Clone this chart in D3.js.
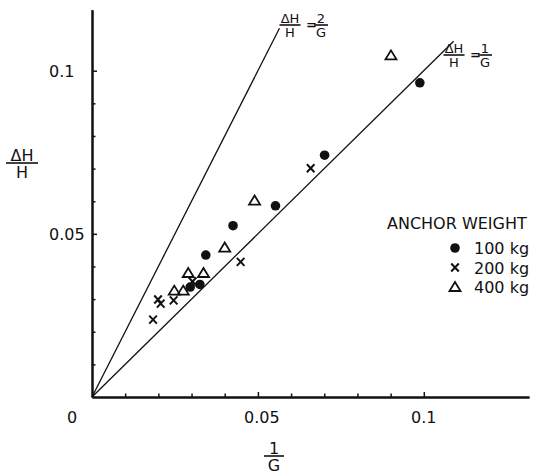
<!DOCTYPE html>
<html><head><meta charset="utf-8">
<script src="https://cdn.jsdelivr.net/npm/d3@7"></script>
<style>
html,body{margin:0;padding:0;background:#fff;}
svg{display:block;font-family:"DejaVu Sans",sans-serif;}
</style></head>
<body>
<svg id="c" width="543" height="474"></svg>
<script>
// ---- data ----
const w100x = [0.0988, 0.0701, 0.0553, 0.0425, 0.0343, 0.0325, 0.0296];
const w100y = [0.0963, 0.0741, 0.0586, 0.0525, 0.0435, 0.0345, 0.0337];
const w200x = [0.0659, 0.0448, 0.0303, 0.0246, 0.0199, 0.0207, 0.0184];
const w200y = [0.0701, 0.0414, 0.0354, 0.0296, 0.0299, 0.0286, 0.0237];
const w400x = [0.0901, 0.0490, 0.0400, 0.0290, 0.0336, 0.0248, 0.0275];
const w400y = [0.1047, 0.0602, 0.0458, 0.0380, 0.0380, 0.0326, 0.0326];
const seriesNames = ["100 kg", "200 kg", "400 kg"];
const lineSlopes = [1, 2];
const lineXEnds = [0.109, 0.0565];
const majorTicks = [0.05, 0.1];
const majorLabels = ["0.05", "0.1"];
const minorTicks = [0.01, 0.02, 0.03, 0.04, 0.06, 0.07, 0.08, 0.09];
const xMax = 0.1317, yMax = 0.1187;

const svg = d3.select("#c");
const ox = 92, oy = 397;
const x = d3.scaleLinear().domain([0, xMax]).range([ox, 529]);
const y = d3.scaleLinear().domain([0, yMax]).range([oy, oy - yMax * 3263]);
const ink = "#111";

// axes
const gx = svg.append("g").attr("transform", `translate(0,${oy})`);
gx.call(d3.axisBottom(x).tickValues(minorTicks).tickSize(-3.5).tickSizeOuter(0).tickFormat(""));
gx.append("g").call(d3.axisBottom(x).tickValues(majorTicks).tickSize(-5).tickSizeOuter(0).tickFormat(""));
const gy = svg.append("g").attr("transform", `translate(${ox},0)`);
gy.call(d3.axisLeft(y).tickValues(minorTicks).tickSize(-3.5).tickSizeOuter(0).tickFormat(""));
gy.append("g").call(d3.axisLeft(y).tickValues(majorTicks).tickSize(-5).tickSizeOuter(0).tickFormat(""));
svg.selectAll(".domain").attr("stroke", ink).attr("stroke-width", 2);
svg.selectAll(".tick line").attr("stroke", ink).attr("stroke-width", 1.5);

// tick labels
const fs = 16;
svg.append("g").selectAll("text").data(majorTicks).join("text")
  .attr("x", (d, i) => x(d) + (i === 0 ? 4 : 0)).attr("y", oy + 26)
  .attr("text-anchor", "middle").attr("font-size", fs).attr("fill", ink)
  .text((d, i) => majorLabels[i]);
svg.append("g").selectAll("text").data(majorTicks).join("text")
  .attr("x", 49).attr("y", d => y(d) + 6)
  .attr("text-anchor", "start").attr("font-size", fs).attr("fill", ink)
  .text((d, i) => majorLabels[i]);
svg.append("text").attr("x", 72).attr("y", oy + 26).attr("text-anchor", "middle")
  .attr("font-size", fs).attr("fill", ink).text("0");

// fraction helper
function frac(cx, barY, top, bottom, size, width) {
  const g = svg.append("g");
  g.append("text").attr("x", cx).attr("y", barY - 2.5).attr("text-anchor", "middle")
    .attr("font-size", size).attr("fill", ink).text(top);
  g.append("line").attr("x1", cx - width / 2).attr("x2", cx + width / 2)
    .attr("y1", barY).attr("y2", barY).attr("stroke", ink).attr("stroke-width", 1.6);
  g.append("text").attr("x", cx).attr("y", barY + size * 0.73 + 3).attr("text-anchor", "middle")
    .attr("font-size", size).attr("fill", ink).text(bottom);
}
// axis titles
frac(22, 163, "ΔH", "H", 16, 32);
frac(274, 456, "1", "G", 16, 20);

// reference lines
lineSlopes.forEach((s, i) => {
  svg.append("line")
    .attr("x1", x(0)).attr("y1", y(0))
    .attr("x2", x(lineXEnds[i])).attr("y2", y(lineXEnds[i] * s))
    .attr("stroke", ink).attr("stroke-width", 1.3);
});
// line labels
function eqLabel(lx, barY, num) {
  frac(lx + 10, barY, "ΔH", "H", 13, 21);
  svg.append("text").attr("x", lx + 26).attr("y", barY + 4).attr("font-size", 13)
    .attr("font-weight", "bold").attr("fill", ink).text("=");
  frac(lx + 41, barY, num, "G", 13, 14);
}
eqLabel(280, 25, "2");
eqLabel(444, 55, "1");

// markers
const marker = {
  dot: (g, px, py) => g.append("circle").attr("cx", px).attr("cy", py).attr("r", 4.8).attr("fill", ink),
  cross: (g, px, py) => g.append("path")
    .attr("d", `M${px-3.8},${py-4}L${px+3.8},${py+4}M${px+3.8},${py-4}L${px-3.8},${py+4}`)
    .attr("stroke", ink).attr("stroke-width", 2).attr("fill", "none"),
  tri: (g, px, py) => g.append("path")
    .attr("d", `M${px},${py-5}L${px+5.5},${py+4}L${px-5.5},${py+4}Z`)
    .attr("stroke", ink).attr("stroke-width", 1.8).attr("fill", "none")
};
const series = [
  {xs: w100x, ys: w100y, m: "dot"},
  {xs: w200x, ys: w200y, m: "cross"},
  {xs: w400x, ys: w400y, m: "tri"}
];
const gp = svg.append("g");
series.forEach(s => s.xs.forEach((v, i) => marker[s.m](gp, x(v), y(s.ys[i]))));

// legend
svg.append("text").attr("x", 387).attr("y", 229).attr("font-size", 16).attr("fill", ink)
  .text("ANCHOR WEIGHT");
series.forEach((s, i) => {
  const ly = 248 + i * 19.5;
  marker[s.m](svg, 455, ly);
  svg.append("text").attr("x", 474).attr("y", ly + 6).attr("font-size", 16).attr("fill", ink)
    .text(seriesNames[i]);
});
</script>
</body></html>
